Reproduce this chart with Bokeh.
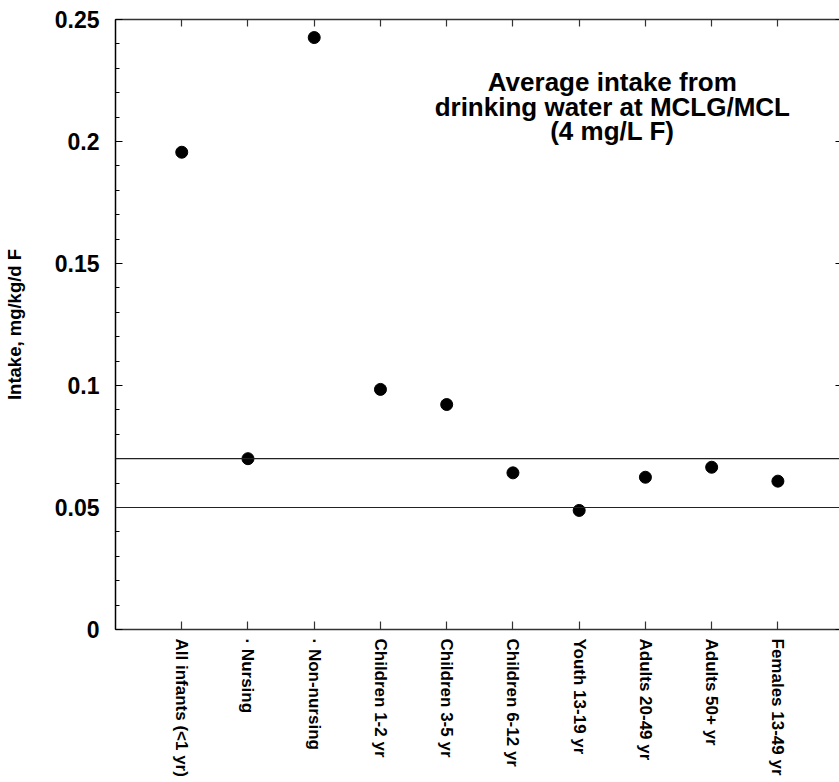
from bokeh.plotting import figure
from bokeh.models import (FixedTicker, LinearAxis, Span, Label, Range1d,
                          ColumnDataSource, CustomJSTickFormatter)
from bokeh.embed import file_html
from bokeh.resources import INLINE

# ---- data ----
categories = ["All infants (<1 yr)", "\u00b7 Nursing", "\u00b7 Non-nursing",
              "Children 1-2 yr", "Children 3-5 yr", "Children 6-12 yr",
              "Youth 13-19 yr", "Adults 20-49 yr", "Adults 50+ yr",
              "Females 13-49 yr"]
intake = [0.1956, 0.0700, 0.2426, 0.0984, 0.0922, 0.0642, 0.0488, 0.0624,
          0.0665, 0.0608]
y_ticks = [0, 0.05, 0.1, 0.15, 0.2, 0.25]
y_tick_labels = ["0", "0.05", "0.1", "0.15", "0.2", "0.25"]
y_minor_ticks = [round(0.01 * i, 2) for i in range(26)]
reference_levels = [0.05, 0.07]
title_lines = ["Average intake from", "drinking water at MCLG/MCL", "(4 mg/L F)"]
y_label = "Intake, mg/kg/d F"

FONT = "Liberation Sans"

positions = list(range(1, len(categories) + 1))
src = ColumnDataSource(data=dict(x=positions, y=intake, cat=categories))

p = figure(width=839, height=782, output_backend="svg", toolbar_location=None,
           x_range=Range1d(0, 10.93), y_range=Range1d(0, 0.25),
           x_axis_location=None, y_axis_location=None,
           min_border_left=115, min_border_top=19, min_border_right=0,
           min_border_bottom=153)
p.outline_line_color = None
p.grid.visible = False
p.background_fill_color = "white"
p.border_fill_color = "white"

x_fmt = CustomJSTickFormatter(args=dict(cat_labels=categories), code="""
const i = Math.round(tick) - 1;
return (i >= 0 && i < cat_labels.length) ? cat_labels[i] : '';
""")
y_fmt = CustomJSTickFormatter(args=dict(yvals=y_ticks, ylabs=y_tick_labels), code="""
for (let i = 0; i < yvals.length; i++) {
  if (Math.abs(yvals[i] - tick) < 1e-9) return ylabs[i];
}
return '';
""")
blank_fmt = CustomJSTickFormatter(code="return '';")

# bottom axis
xb = LinearAxis(ticker=FixedTicker(ticks=positions), formatter=x_fmt)
xb.major_label_orientation = "vertical"
xb.major_tick_in = 8
xb.major_tick_out = 0
xb.minor_tick_in = 0
xb.minor_tick_out = 0
xb.major_label_standoff = 9
xb.major_label_text_font = FONT
xb.major_label_text_font_style = "bold"
xb.major_label_text_font_size = "17px"
xb.major_label_text_color = "black"
xb.axis_line_color = "#333333"
xb.axis_line_width = 1.5
xb.major_tick_line_color = "#333333"
xb.major_tick_line_width = 1.2
p.add_layout(xb, "below")

# top axis (ticks only)
xt = LinearAxis(ticker=FixedTicker(ticks=positions), formatter=blank_fmt)
xt.major_label_text_font_size = "0px"
xt.major_label_text_color = None
xt.major_label_standoff = 0
xt.major_tick_in = 7
xt.major_tick_out = 0
xt.minor_tick_in = 0
xt.minor_tick_out = 0
xt.axis_line_color = "#333333"
xt.axis_line_width = 1.5
xt.major_tick_line_color = "#333333"
xt.major_tick_line_width = 1.2
p.add_layout(xt, "above")

# left axis
yl = LinearAxis(ticker=FixedTicker(ticks=y_ticks, minor_ticks=y_minor_ticks),
                formatter=y_fmt)
yl.major_tick_in = 7
yl.major_tick_out = 0
yl.minor_tick_in = 4
yl.minor_tick_out = 0
yl.major_label_standoff = 16
yl.major_label_text_font = FONT
yl.major_label_text_font_style = "bold"
yl.major_label_text_font_size = "23px"
yl.major_label_text_color = "black"
yl.axis_label = y_label
yl.axis_label_text_font = FONT
yl.axis_label_text_font_style = "bold"
yl.axis_label_text_font_size = "18.5px"
yl.axis_label_text_color = "black"
yl.axis_label_standoff = 27
yl.axis_line_color = "black"
yl.axis_line_width = 1.5
yl.major_tick_line_color = "black"
yl.major_tick_line_width = 1.2
yl.minor_tick_line_color = "black"
yl.minor_tick_line_width = 1.2
p.add_layout(yl, "left")

# right axis (ticks only)
yr = LinearAxis(ticker=FixedTicker(ticks=y_ticks), formatter=blank_fmt)
yr.major_label_text_font_size = "0px"
yr.major_label_text_color = None
yr.major_label_standoff = 0
yr.major_tick_in = 4
yr.major_tick_out = 0
yr.minor_tick_in = 0
yr.minor_tick_out = 0
yr.axis_line_color = None
yr.major_tick_line_color = "black"
yr.major_tick_line_width = 1.2
p.add_layout(yr, "right")

for lvl in reference_levels:
    p.add_layout(Span(location=lvl, dimension="width", line_color="#222222",
                      line_width=1.2))

p.scatter(x="x", y="y", source=src, size=12, color="black")

title_x = 7.50
title_y = [0.2245, 0.2143, 0.2043]
for txt, ty in zip(title_lines, title_y):
    p.add_layout(Label(x=title_x, y=ty, text=txt, text_align="center",
                       text_baseline="alphabetic", text_font=FONT,
                       text_font_style="bold", text_font_size="26px",
                       text_color="black"))

open("out.html", "w").write(file_html(p, INLINE))
